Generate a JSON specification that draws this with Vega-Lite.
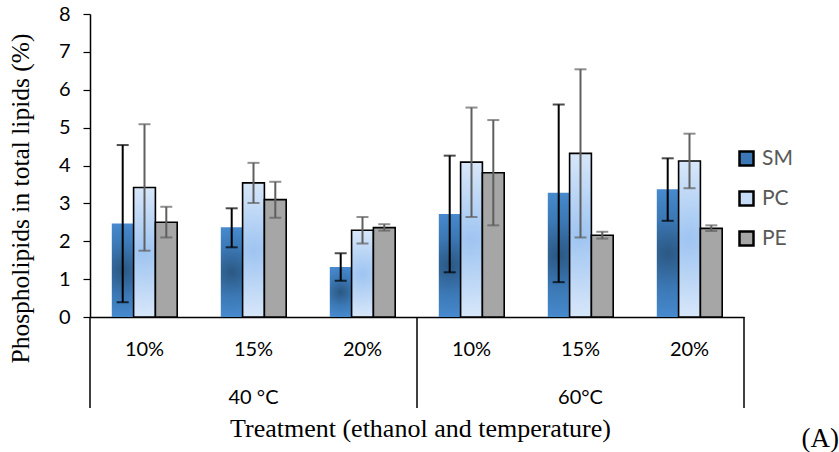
{
  "$schema": "https://vega.github.io/schema/vega-lite/v6.json",
  "width": 654,
  "height": 303,
  "autosize": {"type": "none"},
  "padding": {"left": 90, "top": 14, "right": 95, "bottom": 135},
  "background": "white",
  "config": {
    "view": {"stroke": null},
    "axisY": {
      "grid": false, "labelOverlap": false, "tickCount": 9, "tickMinStep": 1,
      "titleFont": "Liberation Serif", "titleFontSize": 25.5, "titleFontWeight": "normal", "titleColor": "black",
      "titleX": -70, "titleY": 184, "titleAngle": 270, "titleAlign": "center", "titleBaseline": "middle",
      "labelFont": "Lato", "labelFontSize": 20, "labelColor": "black", "labelPadding": 13,
      "tickColor": "black", "tickSize": 7, "tickWidth": 1.2,
      "domainColor": "black", "domainWidth": 1.5
    }
  },
  "resolve": {"axis": {"y": "independent"}},
  "title": {"text": "(A)", "orient": "bottom", "anchor": "end", "frame": "group", "dx": 95, "offset": -15, "font": "Liberation Serif", "fontSize": 27, "fontWeight": "normal", "color": "black"},
  "data": {"values": [
    {"grp": "40 °C|10%", "eth": "10%", "type": "SM", "value": 2.47, "lo": 0.39, "hi": 4.54},
    {"grp": "40 °C|10%", "eth": "10%", "type": "PC", "value": 3.42, "lo": 1.75, "hi": 5.09},
    {"grp": "40 °C|10%", "eth": "10%", "type": "PE", "value": 2.50, "lo": 2.10, "hi": 2.91},
    {"grp": "40 °C|15%", "eth": "15%", "type": "SM", "value": 2.37, "lo": 1.84, "hi": 2.87},
    {"grp": "40 °C|15%", "eth": "15%", "type": "PC", "value": 3.54, "lo": 3.01, "hi": 4.07},
    {"grp": "40 °C|15%", "eth": "15%", "type": "PE", "value": 3.10, "lo": 2.62, "hi": 3.57},
    {"grp": "40 °C|20%", "eth": "20%", "type": "SM", "value": 1.32, "lo": 0.96, "hi": 1.68},
    {"grp": "40 °C|20%", "eth": "20%", "type": "PC", "value": 2.29, "lo": 1.94, "hi": 2.64},
    {"grp": "40 °C|20%", "eth": "20%", "type": "PE", "value": 2.36, "lo": 2.28, "hi": 2.45},
    {"grp": "60°C|10%", "eth": "10%", "type": "SM", "value": 2.72, "lo": 1.18, "hi": 4.26},
    {"grp": "60°C|10%", "eth": "10%", "type": "PC", "value": 4.09, "lo": 2.64, "hi": 5.53},
    {"grp": "60°C|10%", "eth": "10%", "type": "PE", "value": 3.81, "lo": 2.42, "hi": 5.20},
    {"grp": "60°C|15%", "eth": "15%", "type": "SM", "value": 3.28, "lo": 0.92, "hi": 5.61},
    {"grp": "60°C|15%", "eth": "15%", "type": "PC", "value": 4.32, "lo": 2.10, "hi": 6.54},
    {"grp": "60°C|15%", "eth": "15%", "type": "PE", "value": 2.16, "lo": 2.07, "hi": 2.25},
    {"grp": "60°C|20%", "eth": "20%", "type": "SM", "value": 3.37, "lo": 2.54, "hi": 4.19},
    {"grp": "60°C|20%", "eth": "20%", "type": "PC", "value": 4.12, "lo": 3.40, "hi": 4.84},
    {"grp": "60°C|20%", "eth": "20%", "type": "PE", "value": 2.34, "lo": 2.27, "hi": 2.42}
  ]},
  "encoding": {
    "x": {
      "field": "grp", "type": "nominal", "sort": null,
      "scale": {"domain": ["40 °C|10%", "40 °C|15%", "40 °C|20%", "60°C|10%", "60°C|15%", "60°C|20%"], "paddingInner": 0, "paddingOuter": 0},
      "axis": {
        "title": "Treatment (ethanol and temperature)",
        "titleFont": "Liberation Serif", "titleFontSize": 26, "titleFontWeight": "normal", "titleColor": "black",
        "titleX": 330, "titleY": 111, "titleBaseline": "middle", "titleAlign": "center",
        "labelExpr": "indexof(datum.value, '15%') >= 0 ? [split(datum.value, '|')[1], split(datum.value, '|')[0]] : split(datum.value, '|')[1]",
        "labelAngle": 0, "labelFont": "Lato", "labelFontSize": 20, "labelColor": "black",
        "labelPadding": 22, "labelLineHeight": 48, "labelBaseline": "top",
        "labelOverlap": false, "labelFlush": false, "labelBound": false,
        "ticks": false, "tickSize": 0,
        "domainColor": "black", "domainWidth": 1.5
      }
    }
  },
  "layer": [
    {
      "mark": {"type": "bar", "strokeWidth": 1.6},
      "encoding": {
        "xOffset": {"field": "type", "type": "nominal", "sort": null, "scale": {"domain": ["SM", "PC", "PE"], "paddingInner": 0, "paddingOuter": 1.1}},
        "y": {
          "field": "value", "type": "quantitative",
          "scale": {"domain": [0, 8], "nice": false, "zero": true},
          "axis": {"title": "Phospholipids in total lipids (%)", "values": [0, 1, 2, 3, 4, 5, 6, 7, 8], "tickCount": 9, "labelOverlap": false}
        },
        "fill": {
          "field": "type", "type": "nominal", "sort": null,
          "condition": [
            {"test": "datum.type === 'SM'", "value": {"gradient": "radial", "x1": 0.5, "y1": 0.5, "r1": 0, "x2": 0.5, "y2": 0.5, "r2": 0.6, "stops": [{"offset": 0, "color": "#2b5883"}, {"offset": 0.45, "color": "#3b78b5"}, {"offset": 1, "color": "#4b91d8"}]}},
            {"test": "datum.type === 'PC'", "value": {"gradient": "radial", "x1": 0.5, "y1": 0.5, "r1": 0, "x2": 0.5, "y2": 0.5, "r2": 0.6, "stops": [{"offset": 0, "color": "#9ec4f1"}, {"offset": 1, "color": "#e3eefb"}]}}
          ],
          "scale": {"domain": ["SM", "PC", "PE"], "range": ["#3b78b5", "#c5dbf6", "#a6a6a6"]},
          "legend": {
            "title": null, "orient": "none", "legendX": 646, "legendY": 134,
            "symbolType": "square", "symbolSize": 196, "symbolStrokeWidth": 2.5, "symbolOpacity": 1,
            "labelFont": "Lato", "labelFontSize": 21, "labelColor": "#595959", "labelOffset": 5,
            "rowPadding": 15,
            "encode": {"symbols": {"update": {
              "stroke": [{"test": "datum.value === 'SM'", "value": "transparent"}, {"value": "black"}],
              "fill": [
                {"test": "datum.value === 'SM'", "value": {"gradient": "radial", "x1": 0.5, "y1": 0.5, "r1": 0, "x2": 0.5, "y2": 0.5, "r2": 0.6, "stops": [{"offset": 0, "color": "#2b5883"}, {"offset": 0.45, "color": "#3b78b5"}, {"offset": 1, "color": "#4b91d8"}]}},
                {"test": "datum.value === 'PC'", "value": {"gradient": "radial", "x1": 0.5, "y1": 0.5, "r1": 0, "x2": 0.5, "y2": 0.5, "r2": 0.6, "stops": [{"offset": 0, "color": "#9ec4f1"}, {"offset": 1, "color": "#e3eefb"}]}},
                {"value": "#a6a6a6"}
              ]
            }}}
          }
        },
        "stroke": {"condition": {"test": "datum.type === 'SM'", "value": "transparent"}, "value": "black"}
      }
    },
    {
      "mark": {"type": "rule", "strokeWidth": 2},
      "encoding": {
        "xOffset": {"field": "type", "type": "nominal", "sort": null},
        "y": {"field": "lo", "type": "quantitative", "axis": null},
        "y2": {"field": "hi"},
        "color": {"condition": {"test": "datum.type === 'SM'", "value": "black"}, "value": "#5f5f5f"}
      }
    },
    {
      "mark": {"type": "tick", "thickness": 2, "size": 12},
      "encoding": {
        "xOffset": {"field": "type", "type": "nominal", "sort": null},
        "y": {"field": "lo", "type": "quantitative", "axis": null},
        "color": {"condition": {"test": "datum.type === 'SM'", "value": "black"}, "value": "#5f5f5f"}
      }
    },
    {
      "mark": {"type": "tick", "thickness": 2, "size": 12},
      "encoding": {
        "xOffset": {"field": "type", "type": "nominal", "sort": null},
        "y": {"field": "hi", "type": "quantitative", "axis": null},
        "color": {"condition": {"test": "datum.type === 'SM'", "value": "black"}, "value": "#5f5f5f"}
      }
    },
    {
      "transform": [{"filter": "datum.eth === '10%' && datum.type === 'SM'"}],
      "mark": {"type": "rule", "color": "black", "strokeWidth": 1.5},
      "encoding": {
        "x": {"field": "grp", "type": "nominal", "bandPosition": 0},
        "y": {"datum": 0, "type": "quantitative", "axis": null},
        "y2": {"datum": -2.4}
      }
    },
    {
      "transform": [{"filter": "datum.grp === '60°C|20%' && datum.type === 'SM'"}],
      "mark": {"type": "rule", "color": "black", "strokeWidth": 1.5},
      "encoding": {
        "x": {"field": "grp", "type": "nominal", "bandPosition": 1},
        "y": {"datum": 0, "type": "quantitative", "axis": null},
        "y2": {"datum": -2.4}
      }
    }
  ]
}
